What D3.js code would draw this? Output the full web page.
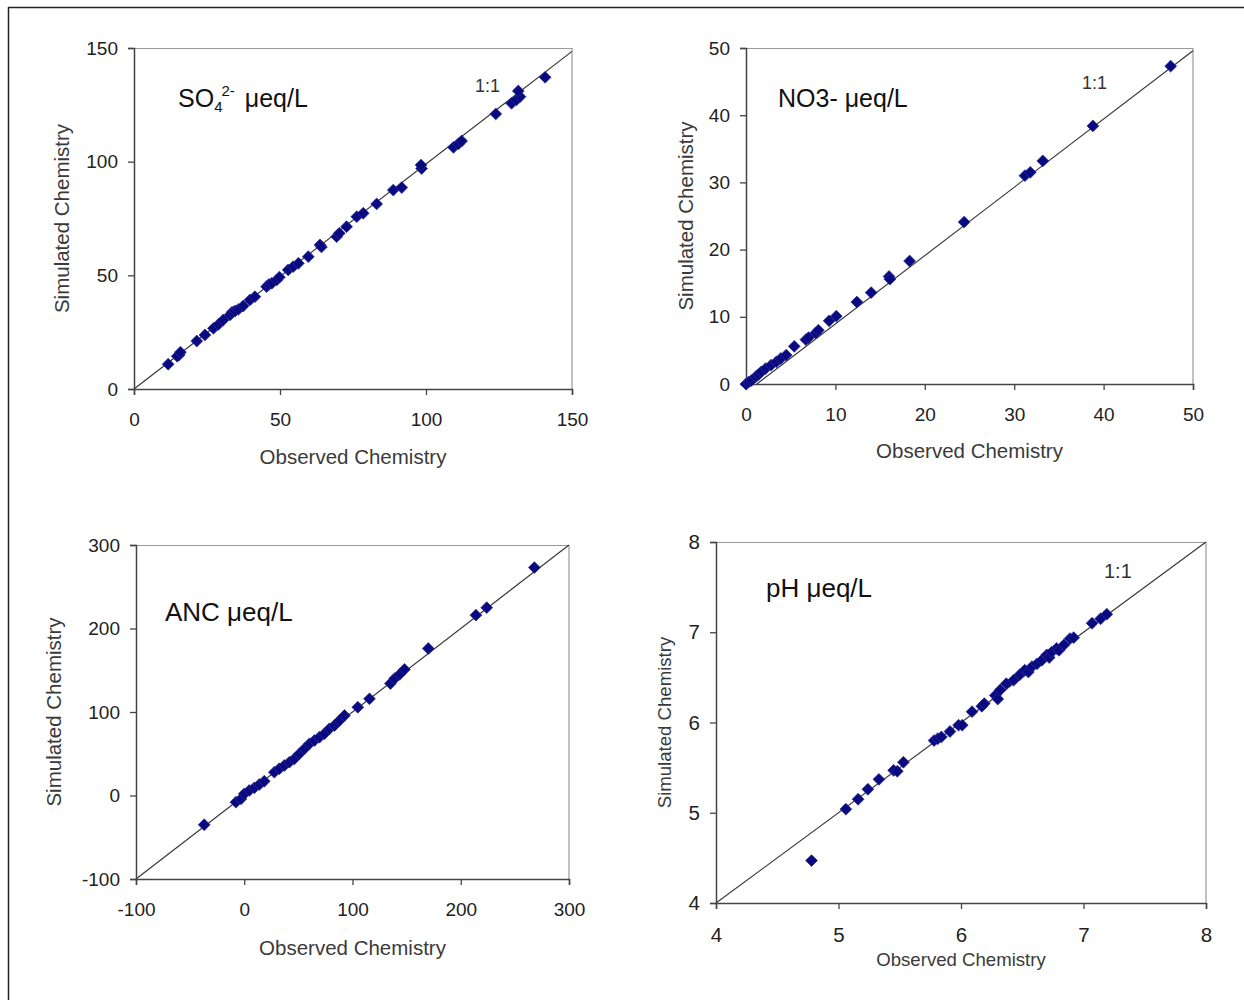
<!DOCTYPE html>
<html><head><meta charset="utf-8">
<script src="https://cdn.jsdelivr.net/npm/d3@7"></script>
<style>
body{margin:0;background:#fff;}
svg{display:block;font-family:"Liberation Sans",Arial,sans-serif;}
</style></head>
<body>
<svg id="chart" width="1244" height="1000"></svg>
<script>
// ---------- DATA ----------
const so4Observed = [11.7,15.5,14.8,15.9,21.5,24.3,27.2,28.9,30.6,32.9,33.6,34.6,35.7,37.4,39.7,41.4,45.4,46.2,47.2,48.9,49.8,52.8,54.5,56.3,59.7,63.7,64.2,69.4,70.3,72.8,76.3,78.5,83.1,88.8,91.7,98.5,98.3,109.4,111.1,112.2,123.9,129.3,131,132.2,131.6,140.8];
const so4Simulated = [10.9,15,14.4,16.2,21.1,23.8,26.7,28.4,30.4,32.6,33.8,34.3,35,36.5,39.2,40.6,45,46,46.5,48,49.2,52.4,53.8,55.3,58.2,63.4,62.5,67,68.5,71.4,75.8,77.3,81.4,87.5,88.6,97,98.5,106.3,107.8,109.1,121,125.7,127.2,128.6,131.1,137.1];
const so4Ticks = [0,50,100,150];

const no3Observed = [0,0.3,0.6,1.1,1.4,1.7,2.2,2.8,3.4,3.9,4.5,5.4,6.7,7,7.8,8.1,9.3,10.1,12.4,14,16,16.1,18.3,24.4,31.2,31.8,33.2,38.8,47.5];
const no3Simulated = [0,0.3,0.5,1.1,1.4,1.8,2.3,2.8,3.3,3.8,4.3,5.6,6.6,6.9,7.6,8,9.4,10.1,12.2,13.6,16,15.6,18.3,24.1,31,31.5,33.2,38.4,47.3];
const no3Ticks = [0,10,20,30,40,50];
const no3LineStart = [1.2,0];
const no3LineEnd = [50,49.6];

const ancObserved = [-37,-7.7,-3,0,4.6,9.3,13.9,18.5,27.8,32.4,37,41.7,46.3,50.9,55.6,60.2,64.8,69.4,74,78.7,83.3,88,92.6,104.9,115.7,135,138.9,143.5,148,170,214,224,268];
const ancSimulated = [-35,-8,-4,2,6,9.2,13.2,17.1,27.9,32,35.9,39.9,43.9,49.9,55.9,61.9,65.9,69.8,73.9,79.9,83.8,89.8,95.8,105.7,115.8,134,140,145,151,176,216,225,273];
const ancTicks = [-100,0,100,200,300];

const phObserved = [4.78,5.06,5.16,5.24,5.33,5.45,5.48,5.53,5.78,5.81,5.84,5.91,5.98,6.01,6.09,6.17,6.19,6.28,6.3,6.32,6.37,6.43,6.48,6.52,6.55,6.58,6.62,6.66,6.7,6.72,6.74,6.78,6.8,6.84,6.89,6.92,7.07,7.14,7.19];
const phSimulated = [4.47,5.04,5.15,5.26,5.37,5.47,5.46,5.56,5.8,5.82,5.84,5.9,5.97,5.97,6.12,6.18,6.21,6.3,6.26,6.36,6.43,6.47,6.53,6.58,6.56,6.62,6.65,6.69,6.75,6.72,6.78,6.82,6.8,6.86,6.93,6.94,7.1,7.15,7.2];
const phTicks = [4,5,6,7,8];

const xTitle = "Observed Chemistry";
const yTitle = "Simulated Chemistry";
const oneToOne = "1:1";

// ---------- LAYOUT ----------
const svg = d3.select("#chart");
svg.append("line").attr("x1",8).attr("x2",1244).attr("y1",7.5).attr("y2",7.5).attr("stroke","#222").attr("stroke-width",1.5);
svg.append("line").attr("x1",8.5).attr("x2",8.5).attr("y1",7).attr("y2",1000).attr("stroke","#222").attr("stroke-width",1.5);

const panels = [
  {obs:so4Observed, sim:so4Simulated, ticks:so4Ticks, left:134, top:48, w:438, h:341,
   line:[[so4Ticks[0],so4Ticks[0]],[so4Ticks[3],so4Ticks[3]-1.5]], title:"so4", tx:178, ty:107, tSize:25,
   oneX:475, oneY:92, oneSize:18, xtY:464, ytX:69, axFont:20.5, tickFont:19},
  {obs:no3Observed, sim:no3Simulated, ticks:no3Ticks, left:746, top:48, w:447, h:336,
   line:[no3LineStart,no3LineEnd], title:"NO3- μeq/L", tx:778, ty:107, tSize:25,
   oneX:1082, oneY:89, oneSize:18, xtY:458, ytX:693, axFont:20.5, tickFont:19},
  {obs:ancObserved, sim:ancSimulated, ticks:ancTicks, left:136, top:545, w:433, h:334,
   line:[[-100,-100],[300,300]], title:"ANC μeq/L", tx:165, ty:621, tSize:26,
   oneX:null, xtY:955, ytX:61, axFont:20.5, tickFont:19},
  {obs:phObserved, sim:phSimulated, ticks:phTicks, left:716, top:542, w:490, h:361,
   line:[[4,4],[8,8]], title:"pH μeq/L", tx:766, ty:597, tSize:26,
   oneX:1104, oneY:578, oneSize:20, xtY:966, ytX:671, axFont:18.6, tickFont:20.5}
];

const fmt = d => String(d); // plain hyphen minus as in reference

panels.forEach(p => {
  const g = svg.append("g").attr("transform",`translate(${p.left},${p.top})`);
  const dom = d3.extent(p.ticks);
  const x = d3.scaleLinear().domain(dom).range([0,p.w]);
  const y = d3.scaleLinear().domain(dom).range([p.h,0]);

  g.append("path").attr("d",`M0,0.5H${p.w}V${p.h}`).attr("fill","none").attr("stroke","#9a9a9a").attr("stroke-width",1.2);

  g.append("line")
    .attr("x1",x(p.line[0][0])).attr("y1",y(p.line[0][1]))
    .attr("x2",x(p.line[1][0])).attr("y2",y(p.line[1][1]))
    .attr("stroke","#333").attr("stroke-width",1.1);

  const xa = g.append("g").attr("transform",`translate(0,${p.h})`)
    .call(d3.axisBottom(x).tickValues(p.ticks).tickSize(6).tickPadding(18).tickFormat(fmt));
  const ya = g.append("g")
    .call(d3.axisLeft(y).tickValues(p.ticks).tickSize(6).tickPadding(10).tickFormat(fmt));
  [xa,ya].forEach(a=>{
    a.select(".domain").attr("stroke","#444").attr("stroke-width",1.5);
    a.selectAll(".tick line").attr("stroke","#444").attr("stroke-width",1.3);
    a.selectAll(".tick text").attr("fill","#222").style("font-size",p.tickFont+"px")
      .style("font-family","'Liberation Sans',Arial,sans-serif");
  });

  const diamond = d3.symbol().type(d3.symbolSquare).size(70)();
  g.append("g").selectAll("path").data(p.obs.map((o,i)=>[o,p.sim[i]])).join("path")
    .attr("d",diamond)
    .attr("transform",d=>`translate(${x(d[0])},${y(d[1])}) rotate(45)`)
    .attr("fill","#0a0a80").attr("stroke","#2a2a98").attr("stroke-width",0.7);

  svg.append("text").attr("x",p.left+p.w/2).attr("y",p.xtY).attr("text-anchor","middle")
    .attr("fill","#3a3a3a").style("font-size",p.axFont+"px").text(xTitle);
  svg.append("text").attr("transform",`translate(${p.ytX},${p.top+p.h/2}) rotate(-90)`)
    .attr("text-anchor","middle").attr("fill","#3a3a3a").style("font-size",p.axFont+"px").text(yTitle);

  if (p.title === "so4") {
    const t = svg.append("text").attr("x",p.tx).attr("y",p.ty).attr("fill","#111").style("font-size",p.tSize+"px");
    t.append("tspan").text("SO");
    t.append("tspan").attr("dy",5).style("font-size","15px").text("4");
    t.append("tspan").attr("dy",-16).attr("dx",-1).style("font-size","15px").text("2-");
    t.append("tspan").attr("dy",11).attr("dx",3).text(" μeq/L");
  } else {
    svg.append("text").attr("x",p.tx).attr("y",p.ty).attr("fill","#111").style("font-size",p.tSize+"px").text(p.title);
  }

  if (p.oneX !== null) {
    svg.append("text").attr("x",p.oneX).attr("y",p.oneY).attr("fill","#333")
      .style("font-size",p.oneSize+"px").text(oneToOne);
  }
});
</script>
</body></html>
